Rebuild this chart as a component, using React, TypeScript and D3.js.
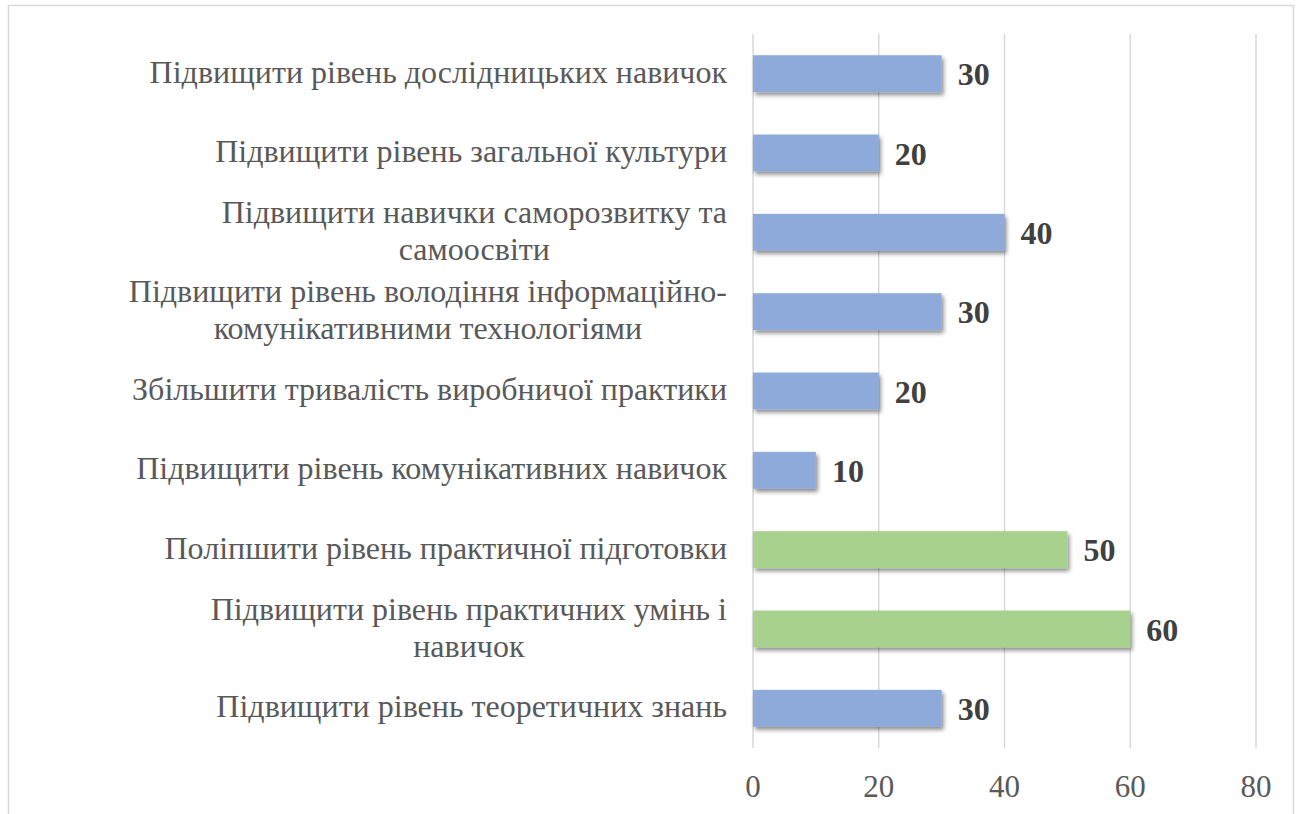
import React, { useEffect, useRef } from "react";
import * as d3 from "d3";

const categories: string[][] = [
  ["Підвищити рівень дослідницьких навичок"],
  ["Підвищити рівень загальної культури"],
  ["Підвищити навички саморозвитку та", "самоосвіти"],
  ["Підвищити рівень володіння інформаційно-", "комунікативними технологіями"],
  ["Збільшити тривалість виробничої практики"],
  ["Підвищити рівень комунікативних навичок"],
  ["Поліпшити рівень практичної підготовки"],
  ["Підвищити рівень практичних умінь і", "навичок"],
  ["Підвищити рівень теоретичних знань"],
];
const values: number[] = [30, 20, 40, 30, 20, 10, 50, 60, 30];
const highlighted: boolean[] = [false, false, false, false, false, false, true, true, false];
const xTicks: number[] = [0, 20, 40, 60, 80];

const W = 1301;
const H = 814;
const FONT = "Liberation Serif";

export default function App() {
  const ref = useRef<SVGSVGElement | null>(null);

  useEffect(() => {
    const svg = d3.select(ref.current);
    svg.selectAll("*").remove();

    const x = d3.scaleLinear().domain([0, 80]).range([753, 1256]);
    const ids = categories.map((_, i) => String(i));
    const y = d3
      .scaleBand<string>()
      .domain(ids)
      .range([34, 748])
      .paddingInner(0.535)
      .paddingOuter(0.535 / 2);

    const defs = svg.append("defs");
    const f = defs
      .append("filter")
      .attr("id", "shadow")
      .attr("x", "-10%")
      .attr("y", "-30%")
      .attr("width", "130%")
      .attr("height", "180%");
    f.append("feDropShadow")
      .attr("dx", 2)
      .attr("dy", 3)
      .attr("stdDeviation", 2)
      .attr("flood-color", "#000")
      .attr("flood-opacity", 0.45);

    svg
      .append("rect")
      .attr("x", 8.5)
      .attr("y", 5.5)
      .attr("width", 1285)
      .attr("height", 830)
      .attr("fill", "#fff")
      .attr("stroke", "#d9d9d9")
      .attr("stroke-width", 1.5);

    // gridlines
    svg
      .append("g")
      .selectAll("line")
      .data(xTicks)
      .join("line")
      .attr("x1", (d) => x(d))
      .attr("x2", (d) => x(d))
      .attr("y1", 34)
      .attr("y2", 748)
      .attr("stroke", "#d9d9d9")
      .attr("stroke-width", 1.5);

    // tick labels
    svg
      .append("g")
      .selectAll("text")
      .data(xTicks)
      .join("text")
      .attr("x", (d) => x(d))
      .attr("y", 796.5)
      .attr("text-anchor", "middle")
      .attr("font-family", FONT)
      .attr("font-size", 31)
      .attr("fill", "#595959")
      .text((d) => String(d));

    // bars
    svg
      .append("g")
      .selectAll("rect")
      .data(values)
      .join("rect")
      .attr("x", x(0))
      .attr("y", (_, i) => y(String(i))!)
      .attr("width", (d) => x(d) - x(0))
      .attr("height", y.bandwidth())
      .attr("fill", (_, i) => (highlighted[i] ? "#a9d18e" : "#8eaadb"))
      .attr("filter", "url(#shadow)");

    // value labels
    svg
      .append("g")
      .selectAll("text")
      .data(values)
      .join("text")
      .attr("x", (d) => x(d) + 16)
      .attr("y", (_, i) => y(String(i))! + y.bandwidth() / 2 + 11.5)
      .attr("font-family", FONT)
      .attr("font-size", 32)
      .attr("font-weight", "bold")
      .attr("fill", "#404040")
      .text((d) => String(d));

    // category labels
    const labelRight = 727;
    const lineH = 37;
    categories.forEach((lines, i) => {
      const cy = y(String(i))! + y.bandwidth() / 2;
      const g = svg.append("g");
      const texts = lines.map((line, j) =>
        g
          .append("text")
          .attr("y", cy + 9 + (j - (lines.length - 1) / 2) * lineH)
          .attr("font-family", FONT)
          .attr("font-size", 32)
          .attr("fill", "#595959")
          .attr("text-anchor", "middle")
          .text(line)
      );
      const widths = texts.map((t) => (t.node() as SVGTextElement).getComputedTextLength());
      const maxW = Math.max(...widths);
      texts.forEach((t) => t.attr("x", labelRight - maxW / 2));
    });
  }, []);

  return (
    <svg
      ref={ref}
      width={W}
      height={H}
      style={{ position: "absolute", left: 0, top: 0, background: "#fff" }}
    />
  );
}
